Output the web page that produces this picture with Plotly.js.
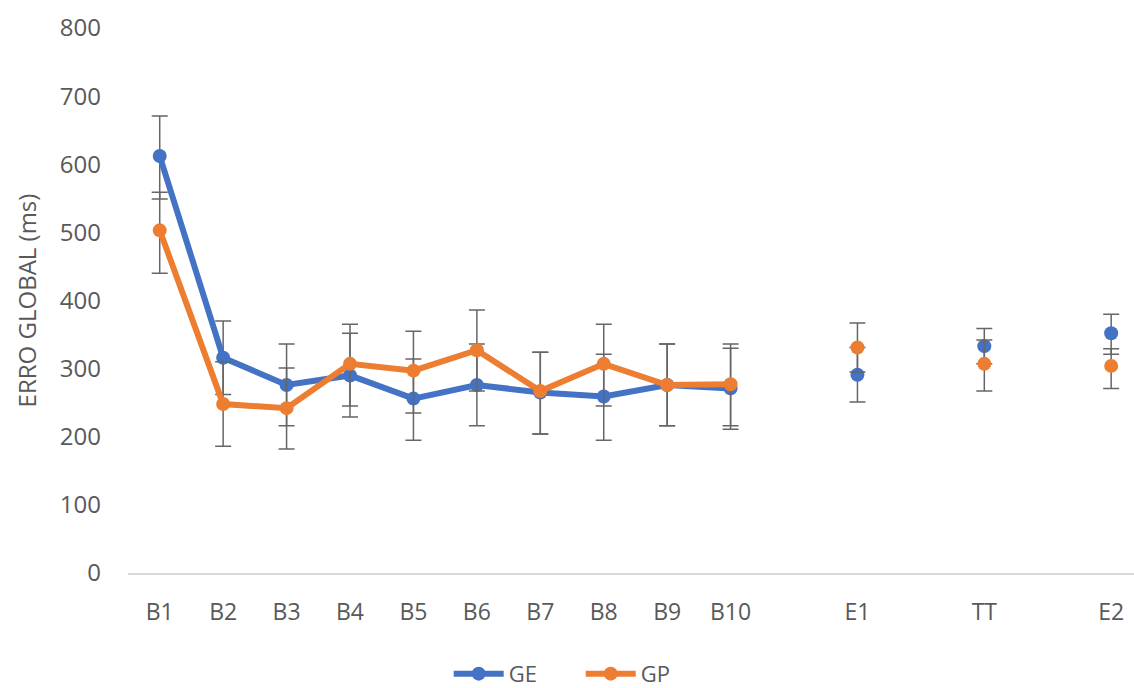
<!DOCTYPE html>
<html>
<head>
<meta charset="utf-8">
<script src="https://cdn.plot.ly/plotly-3.0.1.min.js"></script>
<style>html,body{margin:0;padding:0;background:#fff;}#chart{width:1134px;height:688px;}</style>
</head>
<body>
<div id="chart"></div>
<script>
// Categories (blank entries are the empty columns between groups)
var categories = ['B1','B2','B3','B4','B5','B6','B7','B8','B9','B10',' ','E1','  ','TT','   ','E2'];
var tickLabels = ['B1','B2','B3','B4','B5','B6','B7','B8','B9','B10','','E1','','TT','','E2'];

// GE series
var geValues = [612, 316, 276, 290, 256, 276, 265, 259, 276, 271, null, 291, null, 333, null, 352];
var gePlus   = [59, 54, 60, 62, 58, 60, 59, 62, 60, 59, null, 40, null, 26, null, 28];
var geMinus  = [63, 54, 60, 61, 61, 60, 61, 64, 60, 60, null, 40, null, 26, null, 31];

// GP series
var gpValues = [503, 248, 242, 307, 297, 327, 267, 307, 276, 277, null, 331, null, 307, null, 304];
var gpPlus   = [56, 62, 59, 58, 58, 59, 57, 58, 60, 59, null, 36, null, 35, null, 25];
var gpMinus  = [63, 62, 60, 62, 62, 60, 63, 62, 60, 61, null, 36, null, 40, null, 33];

var errColor = '#666666';
function mk(name, y, plus, minus, color) {
  return {
    type: 'scatter', mode: 'lines+markers', name: name,
    x: categories, y: y, connectgaps: false,
    line: {color: color, width: 6},
    marker: {color: color, size: 14},
    error_y: {type: 'data', symmetric: false, array: plus, arrayminus: minus,
              color: errColor, thickness: 1.5, width: 8}
  };
}

var data = [
  mk('GE', geValues, gePlus, geMinus, '#4472C4'),
  mk('GP', gpValues, gpPlus, gpMinus, '#ED7D31')
];

var fontFam = '"Open Sans", "Noto Sans", sans-serif';
var layout = {
  width: 1134, height: 688,
  margin: {l: 128, r: 0, t: 28, b: 115, autoexpand: false},
  paper_bgcolor: '#ffffff', plot_bgcolor: '#ffffff',
  font: {family: fontFam, color: '#595959', size: 22},
  showlegend: true,
  legend: {orientation: 'h', x: 0.45, xanchor: 'center', y: -0.185, yanchor: 'middle',
           font: {size: 22, color: '#595959'}, itemwidth: 50, entrywidth: 67,
           entrywidthmode: 'pixels', traceorder: 'normal'},
  xaxis: {
    type: 'category', categoryorder: 'array', categoryarray: categories,
    tickvals: categories, ticktext: tickLabels,
    range: [-0.5, 15.36], automargin: false,
    showline: true, linecolor: '#d9d9d9', linewidth: 1.5,
    showgrid: false, zeroline: false, ticks: '',
    tickfont: {size: 23, color: '#595959'}, ticklabelstandoff: 18
  },
  yaxis: {
    range: [0, 800], dtick: 100, tick0: 0, automargin: false,
    showline: false, showgrid: false, zeroline: false, ticks: '',
    tickfont: {size: 24, color: '#595959'}, ticklabelstandoff: 26,
    title: {text: 'ERRO GLOBAL (ms)', font: {size: 24, color: '#595959'}, standoff: 16}
  }
};

Plotly.newPlot('chart', data, layout, {displayModeBar: false, staticPlot: true});
</script>
</body>
</html>
